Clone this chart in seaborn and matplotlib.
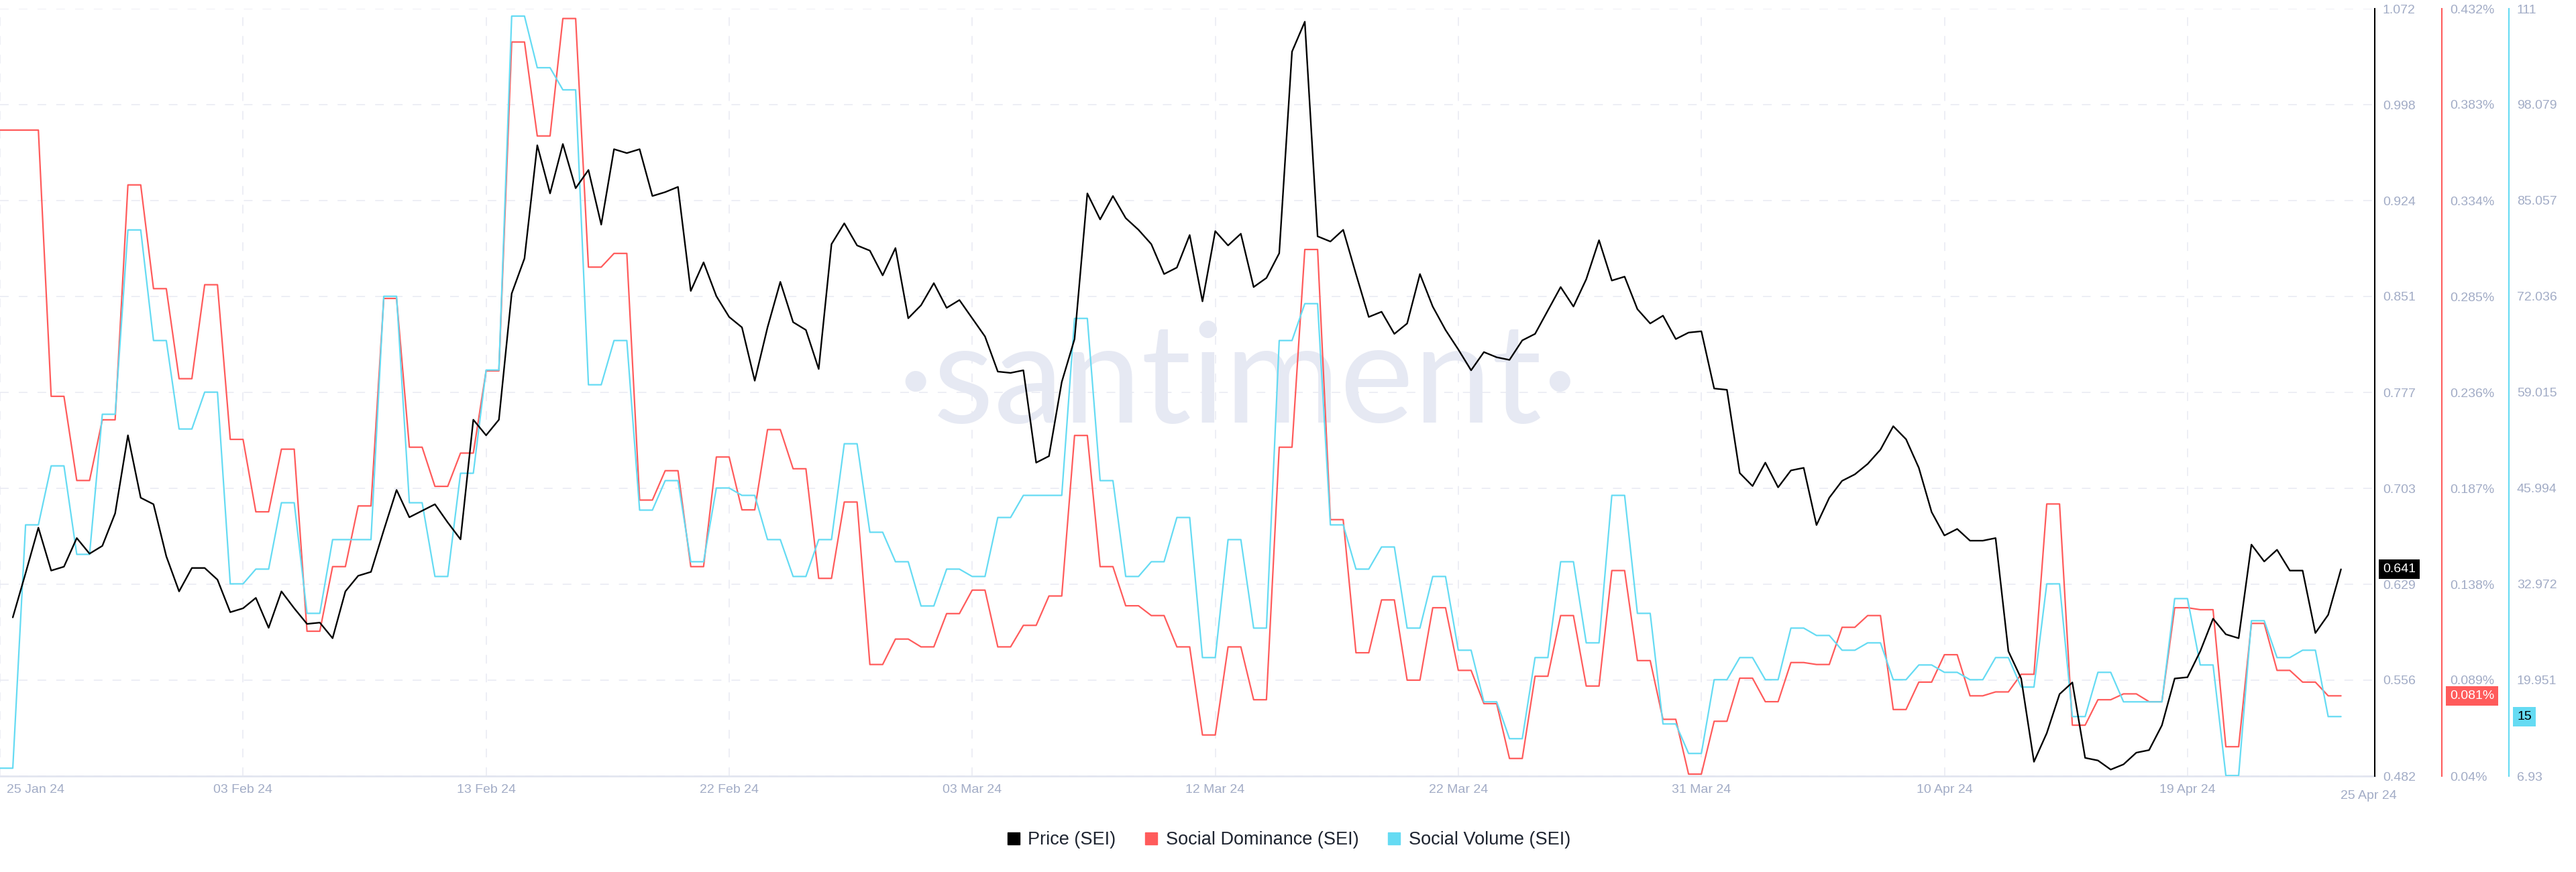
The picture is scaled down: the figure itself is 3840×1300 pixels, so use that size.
import numpy as np
import pandas as pd
import matplotlib
matplotlib.use("Agg")
import matplotlib.pyplot as plt
import matplotlib.dates as mdates
from matplotlib.lines import Line2D
from matplotlib.transforms import blended_transform_factory, ScaledTranslation
import seaborn as sns

# ---------------------------------------------------------------------------
# Data
# ---------------------------------------------------------------------------

START = pd.Timestamp("2024-01-25")

# Price (SEI), one value every 12 h from 25 Jan 12:00 to 25 Apr 12:00
price = [
    0.604, 0.638, 0.673, 0.640, 0.643, 0.665, 0.653, 0.659, 0.684, 0.744,
    0.696, 0.691, 0.651, 0.624, 0.642, 0.642, 0.633, 0.608, 0.611, 0.619,
    0.596, 0.624, 0.611, 0.599, 0.600, 0.588, 0.624, 0.636, 0.639, 0.671,
    0.702, 0.681, 0.686, 0.691, 0.677, 0.664, 0.756, 0.744, 0.756, 0.853,
    0.880, 0.967, 0.930, 0.968, 0.934, 0.948, 0.906, 0.964, 0.961, 0.964,
    0.928, 0.931, 0.935, 0.855, 0.877, 0.851, 0.835, 0.827, 0.786, 0.827,
    0.862, 0.831, 0.825, 0.795, 0.891, 0.907, 0.890, 0.886, 0.867, 0.888,
    0.834, 0.844, 0.861, 0.842, 0.848, 0.834, 0.820, 0.793, 0.792, 0.794,
    0.723, 0.728, 0.785, 0.818, 0.930, 0.910, 0.928, 0.911, 0.902, 0.891,
    0.868, 0.873, 0.898, 0.847, 0.901, 0.890, 0.899, 0.858, 0.865, 0.884,
    1.039, 1.062, 0.897, 0.893, 0.902, 0.868, 0.835, 0.839, 0.822, 0.830,
    0.868, 0.843, 0.825, 0.810, 0.794, 0.808, 0.804, 0.802, 0.817, 0.822,
    0.840, 0.858, 0.843, 0.864, 0.894, 0.863, 0.866, 0.841, 0.830, 0.836,
    0.818, 0.823, 0.824, 0.780, 0.779, 0.715, 0.705, 0.723, 0.704, 0.717,
    0.719, 0.675, 0.696, 0.709, 0.714, 0.722, 0.733, 0.751, 0.741, 0.719,
    0.685, 0.667, 0.672, 0.663, 0.663, 0.665, 0.578, 0.557, 0.493, 0.515,
    0.545, 0.554, 0.496, 0.494, 0.487, 0.491, 0.500, 0.502, 0.521, 0.557,
    0.558, 0.578, 0.603, 0.591, 0.588, 0.660, 0.647, 0.656, 0.640, 0.640,
    0.592, 0.606, 0.641,
]

# Social Dominance (SEI), %, daily 25 Jan .. 25 Apr
dominance = [
    0.370, 0.370, 0.234, 0.191, 0.222, 0.342, 0.289, 0.243, 0.291, 0.212,
    0.175, 0.207, 0.114, 0.147, 0.178, 0.284, 0.208, 0.188, 0.205, 0.247,
    0.415, 0.367, 0.427, 0.300, 0.307, 0.181, 0.196, 0.147, 0.203, 0.176,
    0.217, 0.197, 0.141, 0.180, 0.097, 0.110, 0.106, 0.123, 0.135, 0.106,
    0.117, 0.132, 0.214, 0.147, 0.127, 0.122, 0.106, 0.061, 0.106, 0.079,
    0.208, 0.309, 0.171, 0.103, 0.130, 0.089, 0.126, 0.094, 0.077, 0.049,
    0.091, 0.122, 0.086, 0.145, 0.099, 0.069, 0.041, 0.068, 0.090, 0.078,
    0.098, 0.097, 0.116, 0.122, 0.074, 0.088, 0.102, 0.081, 0.083, 0.092,
    0.179, 0.066, 0.079, 0.082, 0.078, 0.126, 0.125, 0.055, 0.118, 0.094,
    0.088, 0.081,
]

# Social Volume (SEI), daily 25 Jan .. 25 Apr
volume = [
    8, 41, 49, 37, 56, 81, 66, 54, 59, 33,
    35, 44, 29, 39, 39, 72, 44, 34, 48, 62,
    110, 103, 100, 60, 66, 43, 47, 36, 46, 45,
    39, 34, 39, 52, 40, 36, 30, 35, 34, 42,
    45, 45, 69, 47, 34, 36, 42, 23, 39, 27,
    66, 71, 41, 35, 38, 27, 34, 24, 17, 12,
    23, 36, 25, 45, 29, 14, 10, 20, 23, 20,
    27, 26, 24, 25, 20, 22, 21, 20, 23, 19,
    33, 15, 21, 17, 17, 31, 22, 7, 28, 23,
    24, 15,
]

price_ticks = ["0.482", "0.556", "0.629", "0.703", "0.777", "0.851", "0.924", "0.998", "1.072"]
dom_ticks = ["0.04%", "0.089%", "0.138%", "0.187%", "0.236%", "0.285%", "0.334%", "0.383%", "0.432%"]
vol_ticks = ["6.93", "19.951", "32.972", "45.994", "59.015", "72.036", "85.057", "98.079", "111"]

labels = ["Price (SEI)", "Social Dominance (SEI)", "Social Volume (SEI)"]
colors = ["#000000", "#ff5b5b", "#65dbf3"]

# ---------------------------------------------------------------------------
# Style
# ---------------------------------------------------------------------------

sns.set_style("white")
plt.rcParams["font.family"] = ["Liberation Sans", "DejaVu Sans"]

TICK_COLOR = "#a2acc6"
GRID_COLOR = "#e8eaf3"
TICK_SIZE = 14

W, H = 3840, 1300
PLOT_RIGHT = 3540
PLOT_TOP, PLOT_BOTTOM = 13, 1157

fig = plt.figure(figsize=(W / 100, H / 100), dpi=100)
ax_dom = fig.add_axes([0, 1 - PLOT_BOTTOM / H, PLOT_RIGHT / W, (PLOT_BOTTOM - PLOT_TOP) / H])
ax_vol = ax_dom.twinx()
ax_price = ax_dom.twinx()

# x positions
price_x = pd.date_range(START + pd.Timedelta(hours=12), periods=len(price), freq="12h")
days = pd.date_range(START, periods=len(dominance), freq="D")
step_x = np.empty(2 * len(days), dtype="datetime64[ns]")
step_x[0::2] = days.values
step_x[1::2] = (days + pd.Timedelta(hours=12)).values

sns.lineplot(x=step_x, y=np.repeat(dominance, 2), ax=ax_dom, color=colors[1],
             lw=1.6, sort=False, estimator=None)
sns.lineplot(x=step_x, y=np.repeat(volume, 2), ax=ax_vol, color=colors[2],
             lw=1.6, sort=False, estimator=None)
sns.lineplot(x=price_x, y=price, ax=ax_price, color=colors[0],
             lw=1.7, sort=False, estimator=None)

x_end = START + pd.Timedelta(days=92.82)
ax_dom.set_xlim(START, x_end)

# y axes
offsets = {ax_price: 0, ax_dom: 100, ax_vol: 200}
for ax, ticks, col in [(ax_price, price_ticks, colors[0]),
                       (ax_dom, dom_ticks, colors[1]),
                       (ax_vol, vol_ticks, colors[2])]:
    vals = [float(t.rstrip("%")) for t in ticks]
    ax.set_ylim(vals[0], vals[-1])
    ax.yaxis.tick_right()
    ax.set_yticks(vals)
    ax.set_yticklabels(ticks)
    ax.tick_params(axis="y", length=0, pad=8.6, labelsize=TICK_SIZE,
                   labelcolor=TICK_COLOR, left=False, labelleft=False,
                   right=True, labelright=True)
    ax.set_ylabel("")
    for s in ["left", "top", "bottom"]:
        ax.spines[s].set_visible(False)
    ax.spines["right"].set_visible(True)
    ax.spines["right"].set_color(col)
    ax.spines["right"].set_linewidth(1.5)
    ax.spines["right"].set_position(("axes", 1 + offsets[ax] / PLOT_RIGHT))

# grid + x axis on the lowest axes
ax_dom.grid(True, axis="both", color=GRID_COLOR, lw=1.1, linestyle=(0, (8.5, 9.8)))
ax_dom.set_axisbelow(True)
ax_dom.spines["bottom"].set_visible(True)
ax_dom.spines["bottom"].set_color("#e2e6f0")
ax_dom.spines["bottom"].set_linewidth(2)

xticks = [START + pd.Timedelta(hours=228 * k) for k in range(10)]
ax_dom.set_xticks(xticks)
ax_dom.xaxis.set_major_formatter(mdates.DateFormatter("%d %b %y"))
ax_dom.tick_params(axis="x", length=0, pad=9, labelsize=TICK_SIZE, labelcolor=TICK_COLOR)
for a in (ax_vol, ax_price):
    a.tick_params(axis="x", bottom=False, labelbottom=False)
    a.set_xlabel("")
ax_dom.set_xlabel("")
first = ax_dom.get_xticklabels()[0]
first.set_ha("left")
first.set_transform(first.get_transform() + ScaledTranslation(10 / 100, 0, fig.dpi_scale_trans))

# last date label at the right end
last_day = days[-1]
ax_dom.text(x_end - pd.Timedelta(hours=6), -0.0185, last_day.strftime("%d %b %y"),
            transform=blended_transform_factory(ax_dom.transData, ax_dom.transAxes),
            ha="center", va="top", fontsize=TICK_SIZE, color=TICK_COLOR)

# value badges
badges = [(ax_price, f"{price[-1]:.3f}", price[-1], colors[0], "white"),
          (ax_dom, f"{dominance[-1]:.3f}%", dominance[-1], colors[1], "white"),
          (ax_vol, f"{volume[-1]}", volume[-1], colors[2], "black")]
for ax, txt, val, fc, tc in badges:
    ax.text(1 + (offsets[ax] + 12) / PLOT_RIGHT, val, txt,
            transform=blended_transform_factory(ax.transAxes, ax.transData),
            ha="left", va="center", fontsize=TICK_SIZE, color=tc, zorder=10,
            clip_on=False,
            bbox=dict(boxstyle="square,pad=0.3", fc=fc, ec="none"))

# watermark
ax_dom.text(1845 / W, 1 - 630 / H, "·santiment·", transform=fig.transFigure,
            ha="center", va="baseline", fontsize=150, color="#e6e9f3",
            family=["Lato", "DejaVu Sans"], zorder=0.6)

# legend
handles = [Line2D([], [], marker="s", linestyle="", markersize=13.5, color=c) for c in colors]
fig.legend(handles, labels, loc="center", bbox_to_anchor=(0.5, 1 - 1252 / H),
           ncol=3, frameon=False, fontsize=19.5, handlelength=0.9,
           handletextpad=0.35, columnspacing=1.5, labelcolor="#1e2430")

fig.savefig("out.png", dpi=100)
plt.close(fig)
